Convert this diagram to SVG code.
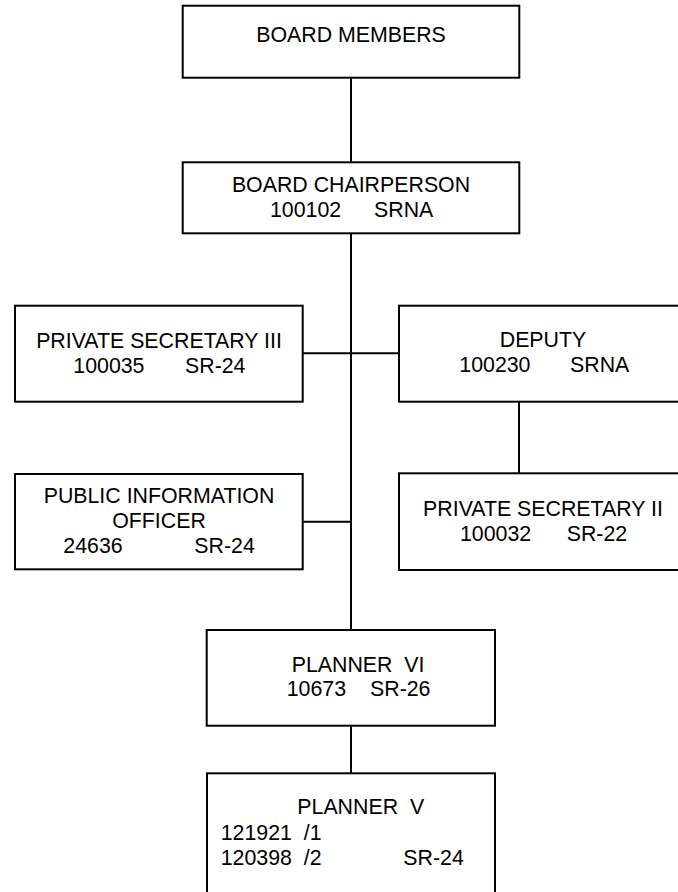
<svg xmlns="http://www.w3.org/2000/svg" width="678" height="892" viewBox="0 0 678 892">
<style>
.box{fill:#fff;stroke:#000;stroke-width:2}
.c{stroke:#000;stroke-width:2;fill:none}
text{font-family:"Liberation Sans",Arial,sans-serif;font-size:21.33px;fill:#000}
.m{text-anchor:middle}
</style>
<rect width="678" height="892" fill="#fff"/>
<g id="connectors">
<line class="c" x1="351" y1="77.7" x2="351" y2="162.3"/>
<line class="c" x1="351" y1="233.3" x2="351" y2="630"/>
<line class="c" x1="302.7" y1="353.3" x2="399" y2="353.3"/>
<line class="c" x1="302.7" y1="521.7" x2="351" y2="521.7"/>
<line class="c" x1="519" y1="401.7" x2="519" y2="473.3"/>
<line class="c" x1="351" y1="725.7" x2="351" y2="773.3"/>
</g>
<g id="board-members">
<rect class="box" x="182.7" y="5.7" width="336.6" height="72"/>
<text class="m" x="351" y="41.7">BOARD MEMBERS</text>
</g>
<g id="board-chairperson">
<rect class="box" x="182.7" y="162.3" width="336.6" height="71"/>
<text class="m" x="351" y="191.7">BOARD CHAIRPERSON</text>
<text x="270" y="216.7">100102</text><text x="374" y="216.7">SRNA</text>
</g>
<g id="private-secretary-iii">
<rect class="box" x="15" y="305.7" width="287.7" height="96"/>
<text class="m" x="159" y="348">PRIVATE SECRETARY III</text>
<text x="73.3" y="372.7">100035</text><text x="185" y="372.7">SR-24</text>
</g>
<g id="deputy">
<rect class="box" x="399" y="305.7" width="290" height="96"/>
<text class="m" x="543" y="347">DEPUTY</text>
<text x="459.3" y="371.7">100230</text><text x="570" y="371.7">SRNA</text>
</g>
<g id="public-information-officer">
<rect class="box" x="15" y="474" width="287.7" height="95.3"/>
<text class="m" x="159" y="502.7">PUBLIC INFORMATION</text>
<text class="m" x="159" y="528.3">OFFICER</text>
<text x="63.3" y="553.3">24636</text><text x="194.3" y="553.3">SR-24</text>
</g>
<g id="private-secretary-ii">
<rect class="box" x="399" y="473.3" width="290" height="96.7"/>
<text class="m" x="543" y="516">PRIVATE SECRETARY II</text>
<text x="460" y="541">100032</text><text x="566.7" y="541">SR-22</text>
</g>
<g id="planner-vi">
<rect class="box" x="206.7" y="630" width="288.3" height="95.7"/>
<text x="291.7" y="671.7" xml:space="preserve">PLANNER  VI</text>
<text x="286.7" y="696">10673</text><text x="370" y="696">SR-26</text>
</g>
<g id="planner-v">
<rect class="box" x="207" y="773.3" width="288" height="130"/>
<text x="297.3" y="814" xml:space="preserve">PLANNER  V</text>
<text x="220.7" y="840" xml:space="preserve">121921  /1</text>
<text x="220.7" y="865" xml:space="preserve">120398  /2</text>
<text x="403.3" y="865">SR-24</text>
</g>
</svg>
